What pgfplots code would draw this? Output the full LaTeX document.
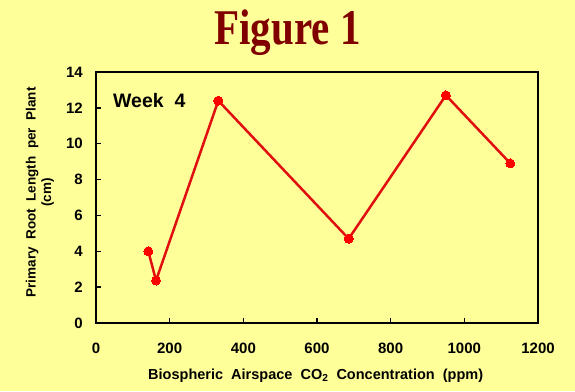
\documentclass[border=0pt]{standalone}
\usepackage{fontspec}
\setmainfont{Liberation Sans}
\newfontfamily\titlefont{Liberation Serif}
\usepackage{pgfplots}
\pgfplotsset{compat=1.18}
\definecolor{bgyellow}{HTML}{FFFF99}
\definecolor{titlered}{HTML}{800000}
\definecolor{linered}{HTML}{E01010}
\begin{document}
\begin{tikzpicture}
\fill[bgyellow] (0,0) rectangle (575pt,391pt);
\node[text=titlered, inner sep=0pt] at (287.5pt,358pt)
  {\scalebox{0.82}[1]{\titlefont\fontsize{50}{55}\selectfont\bfseries Figure 1}};
\begin{axis}[
  at={(96pt,68pt)}, anchor=south west,
  scale only axis, width=442pt, height=251pt,
  xmin=0, xmax=1200, ymin=0, ymax=14,
  xtick={0,200,...,1200}, ytick={0,2,...,14},
  tick align=inside, xtick pos=bottom, ytick pos=left,
  major tick length=5pt,
  every tick/.style={black, line width=1.4pt},
  axis line style={black, line width=1.6pt},
  /pgf/number format/assume math mode=true,
  /pgf/number format/1000 sep={},
  ticklabel style={font=\fontsize{15}{17}\selectfont\bfseries, inner sep=0pt},
  xticklabel style={anchor=center, yshift=-25pt},
  yticklabel style={anchor=east, xshift=-13pt},
  xlabel={Biospheric\ \ Airspace\ \ CO\textsubscript{2}\ \ Concentration\ \ (ppm)},
  xlabel style={at={(rel axis cs:0.497,-0.211)}, anchor=center, inner sep=0pt, font=\fontsize{14.5}{17}\selectfont\bfseries},
  ylabel={Primary\ \ Root\ \ Length\ \ per\ \ Plant\\(cm)},
  ylabel style={at={(rel axis cs:-0.127,0.52)}, anchor=center, align=center, inner sep=0pt, font=\fontsize{13.5}{15.5}\selectfont\bfseries},
  clip=false,
]
\addplot[linered, line width=2.5pt, mark=*, mark size=4.5pt, mark options={fill=red, draw=red, line width=0pt}]
  coordinates {(142,4.0) (163,2.37) (332,12.4) (686,4.7) (950,12.7) (1125,8.9)};
\node[anchor=west, inner sep=0pt, font=\fontsize{19.5}{22}\selectfont\bfseries] at (axis cs:46,12.4) {Week\ \ 4};
\end{axis}
\pgfresetboundingbox
\path[use as bounding box] (0,0) rectangle (575pt,391pt);
\end{tikzpicture}
\end{document}
